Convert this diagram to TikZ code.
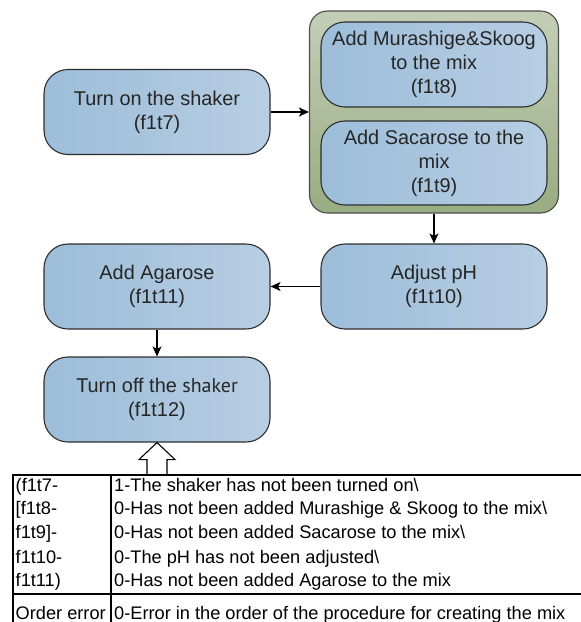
\documentclass[tikz,border=0pt]{standalone}
\usepackage{fontspec}
\setmainfont{Liberation Sans}
\newfontfamily\shakerfont{PT Sans}
\usetikzlibrary{arrows.meta,calc}
\definecolor{boxA}{HTML}{9DBDD9}
\definecolor{boxB}{HTML}{B7CEE3}
\definecolor{grA}{HTML}{C4CEB7}
\definecolor{grB}{HTML}{98AC82}
\definecolor{edgec}{HTML}{2E2E2E}
\begin{document}
\begin{tikzpicture}[x=1pt,y=-1pt,
  procbox/.style={draw=edgec, line width=1.1pt, rounded corners=24pt,
    left color=boxA, right color=boxB, minimum width=226pt, minimum height=85pt,
    inner sep=0pt, align=center, font=\fontsize{19.9}{24}\selectfont, text=black!85},
  groupbox/.style={draw=gray!60!black, line width=1.1pt, rounded corners=18pt,
    top color=grA, bottom color=grB, minimum width=249pt, minimum height=202pt, inner sep=0pt},
  flow/.style={draw=black, line width=1.1pt, -{Stealth[length=10pt,width=9pt,inset=2.5pt]}},
  cell/.style={anchor=base west, inner sep=0pt, font=\fontsize{18.2}{20}\selectfont},
  tablerule/.style={line width=1.6pt}
]
\useasboundingbox (0,0) rectangle (581,622);

\node[groupbox] (grp) at (434,112) {};
\node[procbox] (t8) at (434,64.5) {Add Murashige\&Skoog\\to the mix\\(f1t8)};
\node[procbox, minimum height=84pt] (t9) at (434,163) {Add Sacarose to the\\mix\\(f1t9)};
\node[procbox] (t7) at (157,112) {Turn on the shaker\\(f1t7)};
\node[procbox] (t10) at (434,286.5) {Adjust pH\\(f1t10)};
\node[procbox] (t11) at (157,286.5) {Add Agarose\\(f1t11)};
\node[procbox] (t12) at (157,399.5) {Turn off the {\shakerfont shaker}\\(f1t12)};

\draw[flow] (t7) -- (grp);
\draw[flow] (grp) -- (t10);
\draw[flow] (t10) -- (t11);
\draw[flow] (t11) -- (t12);

% block arrow
\draw[line width=1.1pt, fill=white]
  ($(t12.south)+(-10,33)$) -- ++(0,-16) -- ++(-8,0) -- (t12.south)
  -- ($(t12.south)+(18,17)$) -- ++(-8,0) -- ++(0,16);

% table
\draw[tablerule] (13,475) -- (581,475);
\draw[tablerule] (13,594) -- (581,594);
\draw[tablerule] (13,474.2) -- (13,622);
\draw[tablerule] (111,474.2) -- (111,622);

\node[cell] (a1) at (15.5,491) {(f1t7-};
\node[cell] (a2) at (15.5,514.5) {[f1t8-};
\node[cell] (a3) at (15.5,538.5) {f1t9]-};
\node[cell] (a4) at (15.5,563) {f1t10-};
\node[cell] (a5) at (15.5,586.5) {f1t11)};
\node[cell] (a6) at (15.5,619) {Order error};

\node[cell] (b1) at (114,491) {1-The shaker has not been turned on\textbackslash};
\node[cell] (b2) at (114,514.5) {0-Has not been added Murashige \& Skoog to the mix\textbackslash};
\node[cell] (b3) at (114,538.5) {0-Has not been added Sacarose to the mix\textbackslash};
\node[cell] (b4) at (114,563) {0-The pH has not been adjusted\textbackslash};
\node[cell] (b5) at (114,586.5) {0-Has not been added Agarose to the mix};
\node[cell] (b6) at (114,619) {0-Error in the order of the procedure for creating the mix};
\end{tikzpicture}
\end{document}
